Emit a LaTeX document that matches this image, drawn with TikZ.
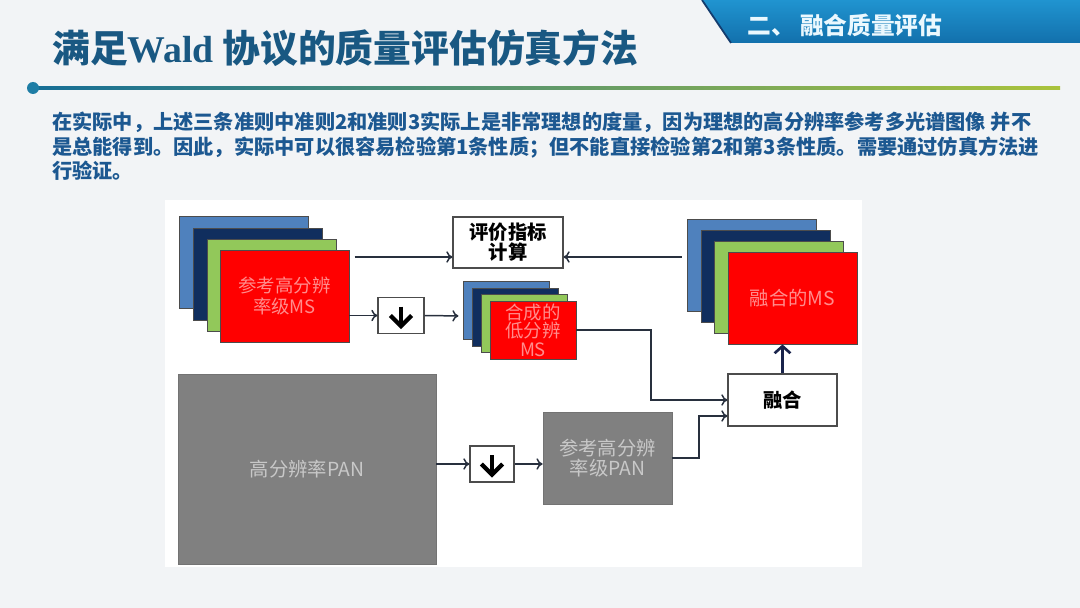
\documentclass[tikz,border=0pt]{standalone}
\usepackage{fontspec}
\setmainfont{Noto Sans CJK SC}
\newfontfamily\serifw{Liberation Serif}
\usetikzlibrary{arrows.meta}
\definecolor{slidebg}{RGB}{242,244,246}
\definecolor{tabt}{RGB}{32,148,208}
\definecolor{tabb}{RGB}{18,112,172}
\definecolor{tabedge}{RGB}{20,60,110}
\definecolor{titleblue}{RGB}{25,88,130}
\definecolor{bodyblue}{RGB}{28,88,145}
\definecolor{linel}{RGB}{22,110,150}
\definecolor{liner}{RGB}{170,195,60}
\definecolor{dotc}{RGB}{30,125,165}
\definecolor{msblue}{RGB}{79,129,189}
\definecolor{msnavy}{RGB}{16,46,94}
\definecolor{msgreen}{RGB}{146,200,90}
\definecolor{msred}{RGB}{255,0,0}
\definecolor{mstext}{RGB}{255,140,140}
\definecolor{pangray}{RGB}{128,128,128}
\definecolor{pantext}{RGB}{200,200,200}
\definecolor{connc}{RGB}{40,48,62}
\definecolor{thickc}{RGB}{25,35,75}
\begin{document}
\begin{tikzpicture}[x=0.02cm, y=-0.02cm,
    mslayer/.style={draw=black!70, line width=0.5pt},
    redbox/.style={mslayer, fill=msred, text=mstext, align=center, inner sep=0pt, font=\fontsize{10.5}{11.5}\selectfont},
    graybox/.style={draw=black!55, line width=0.5pt, fill=pangray, text=pantext, align=center, inner sep=0pt, font=\fontsize{11}{11.5}\selectfont},
    whitebox/.style={draw=black!70, line width=0.6pt, fill=white, align=center, inner sep=0pt, font=\fontsize{11}{11.5}\selectfont\bfseries},
    downbox/.style={draw=black!70, line width=0.6pt, fill=white, inner sep=0pt, minimum width=0.92cm, minimum height=0.72cm},
    conn/.style={draw=connc, line width=0.85pt, -{To[length=3.5pt,width=6.5pt]}},
    downsign/.style={line width=2.4pt, miter limit=4}]
    \useasboundingbox (0,0) rectangle (1080,608);
    % Фон
    \fill[slidebg] (0,0) rectangle (1080,608);
    \fill[white] (165,200) rectangle (862,567);
    % Заголовок
    \shade[top color=tabt, bottom color=tabb] (702,0) -- (1080,0) -- (1080,43) -- (731,43) -- cycle;
    \draw[tabedge, line width=1pt] (702,0) -- (731,43);
    \node[anchor=west, inner sep=0pt, text=white!92!cyan, font=\fontsize{13.5}{15}\selectfont\bfseries] (section) at (747,25) {二、\hspace{3pt}融合质量评估};
    \node[anchor=west, inner sep=0pt, text=titleblue, font=\fontsize{21.5}{24}\selectfont\bfseries] (title) at (52,48) {满足{\serifw Wald} 协议的质量评估仿真方法};
    \shade[left color=linel, right color=liner] (33,86.5) rectangle (1060,89.5);
    \fill[dotc] (33,88) circle[radius=6];
    % Текст
    \node[anchor=north west, inner sep=0pt, align=left, text=bodyblue, font=\fontsize{11.5}{13.9}\selectfont\bfseries] (intro) at (52,112)
        {在实际中，上述三条准则中准则2和准则3实际上是非常理想的度量，因为理想的高分辨率参考多光谱图像 并不\\
         是总能得到。因此，实际中可以很容易检验第1条性质；但不能直接检验第2和第3条性质。需要通过仿真方法进\\
         行验证。};
    % Эталонный MS
    \draw[mslayer, fill=msblue] (179,216) rectangle (308,308);
    \draw[mslayer, fill=msnavy] (193,228) rectangle (322,320);
    \draw[mslayer, fill=msgreen] (207,239) rectangle (336,331);
    \node[redbox, minimum width=2.58cm, minimum height=1.84cm] (refms) at (284.5,296) {参考高分辨\\率级MS};
    % Синтезированный MS
    \draw[mslayer, fill=msblue] (463,281) rectangle (549,339);
    \draw[mslayer, fill=msnavy] (472,288) rectangle (558,346);
    \draw[mslayer, fill=msgreen] (481,294) rectangle (567,352);
    \node[redbox, minimum width=1.72cm, minimum height=1.16cm, font=\fontsize{10.5}{10.5}\selectfont] (lowms) at (533,330) {合成的\\低分辨\\MS};
    % Результат слияния
    \draw[mslayer, fill=msblue] (687,219) rectangle (816,311);
    \draw[mslayer, fill=msnavy] (701,230) rectangle (830,322);
    \draw[mslayer, fill=msgreen] (714,241) rectangle (843,333);
    \node[redbox, minimum width=2.58cm, minimum height=1.84cm, font=\fontsize{11}{12}\selectfont] (fusedms) at (792.5,298) {融合的MS};
    % Блоки
    \node[whitebox, minimum width=2.2cm, minimum height=1.02cm] (evalbox) at (508,242.5) {评价指标\\计算};
    \node[whitebox, minimum width=2.18cm, minimum height=1.04cm] (fuse) at (782.5,400) {融合};
    \node[downbox] (down1) at (401,315.5) {};
    \node[downbox, minimum width=0.88cm] (down2) at (492,464) {};
    \foreach \d in {down1, down2} {
        \draw[downsign] ([yshift=5pt]\d.center) -- ([yshift=-6pt]\d.center);
        \draw[downsign] ([shift={(-6pt,0pt)}]\d.center) -- ([yshift=-6pt]\d.center) -- ([shift={(6pt,0pt)}]\d.center);
    }
    \node[graybox, minimum width=5.16cm, minimum height=3.8cm] (pan) at (307,469) {高分辨率PAN};
    \node[graybox, minimum width=2.58cm, minimum height=1.84cm] (refpan) at (607.5,458) {参考高分辨\\率级PAN};
    % Стрелки
    \coordinate (evy) at (0,257);
    \coordinate (fusedback) at (687,257);
    \coordinate (lowback) at (462,316);
    \coordinate (bend1) at (651,330);
    \coordinate (bend2) at (699,416);
    \draw[conn, shorten <=3pt] (refms.east |- evy) -- (evalbox.west |- evy);
    \draw[conn, shorten <=3pt] (fusedback) -- (evalbox.east |- evy);
    \draw[conn] (refms.east |- down1.west) -- (down1.west);
    \draw[conn, shorten >=2pt] (down1.east) -- (lowback);
    \draw[conn] (lowms.east) -- (bend1) |- (fuse.west);
    \draw[conn] (refpan.east) -| (bend2) -- (bend2 -| fuse.west);
    \draw[conn] (pan.east |- down2.west) -- (down2.west);
    \draw[conn] (down2.east) -- (refpan.west |- down2.east);
    \draw[draw=thickc, line width=1.5pt, -{Straight Barb[length=4pt,width=9pt]}] (fuse.north) -- (fuse.north |- fusedms.south);
\end{tikzpicture}
\end{document}
